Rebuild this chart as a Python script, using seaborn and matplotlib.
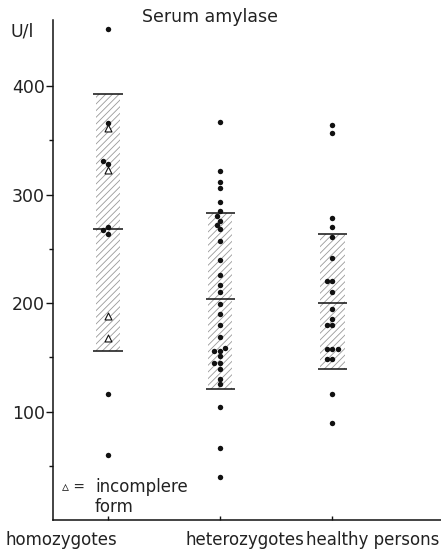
import numpy as np
import pandas as pd
import matplotlib
matplotlib.use("Agg")
import matplotlib.pyplot as plt
import matplotlib.transforms as mtransforms
import seaborn as sns

# ---- data ----
groups = ["homozygotes", "heterozygotes", "healthy persons"]

homo_complete = [453, 366, 331, 328, 270, 267, 264, 116, 60]
homo_incomplete = [361, 323, 188, 168]
hetero = [367, 322, 312, 306, 293, 285, 280, 276, 272, 268, 257, 240, 226,
          217, 210, 199, 190, 180, 169, 159, 156, 156, 151, 145, 145, 139,
          130, 125, 104, 66, 40]
healthy = [364, 357, 278, 270, 261, 242, 220, 220, 210, 195, 185, 180, 180,
           158, 158, 158, 148, 148, 116, 89]

band_lower = [156, 121, 139]
band_mean = [268, 204, 200]
band_upper = [393, 283, 264]

y_ticks = [100, 200, 300, 400]
y_minor = [50, 150, 250, 350]

# ---- figure ----
sns.set_style("white")
plt.rcParams["font.family"] = ["DejaVu Sans"]
plt.rcParams["hatch.linewidth"] = 0.6

fig = plt.figure(figsize=(4.41, 5.52), dpi=100)
ax = fig.add_axes([53 / 441, 32 / 552, 388 / 441, 500 / 552])

dots = pd.DataFrame({
    "group": ["homozygotes"] * len(homo_complete) + ["heterozygotes"] * len(hetero)
             + ["healthy persons"] * len(healthy),
    "value": homo_complete + hetero + healthy,
})
tri = pd.DataFrame({"group": ["homozygotes"] * len(homo_incomplete),
                    "value": homo_incomplete})

# hatched bands
pos = np.arange(len(groups))
heights = np.array(band_upper) - np.array(band_lower)
ax.bar(pos, heights, bottom=band_lower, width=0.22, facecolor="white",
       edgecolor="#9a9a9a", linewidth=0, hatch="/////", zorder=1)
for p, lo, me, up in zip(pos, band_lower, band_mean, band_upper):
    ax.hlines([lo, me, up], p - 0.13, p + 0.13, color="#111111", lw=1.1, zorder=2)

sns.swarmplot(data=dots, x="group", y="value", order=groups, color="#111111",
              size=3.9, ax=ax, zorder=3)
sns.stripplot(data=tri, x="group", y="value", order=groups, jitter=False,
              marker="^", color="white", edgecolor="#111111", linewidth=0.8,
              size=5, ax=ax, zorder=4)

ax.set_xlim(-0.49, 2.97)
ax.set_ylim(0, 461)
ax.set_yticks(y_ticks)
ax.set_yticks(y_minor, minor=True)
ax.set_yticklabels([str(t) for t in y_ticks], fontsize=12.5)
ax.set_xticks(pos)
ax.set_xticklabels(groups, fontsize=12)
ax.set_xlabel("")
ax.set_ylabel("")
ax.tick_params(axis="y", which="major", direction="out", length=5, width=1,
               left=True, pad=1, colors="#111111", labelcolor="#222222")
ax.tick_params(axis="y", which="minor", direction="out", length=3, width=1,
               left=True, colors="#111111")
ax.tick_params(axis="x", direction="in", length=3, width=1, bottom=True, pad=8,
               colors="#111111", labelcolor="#222222")
for s in ["top", "right"]:
    ax.spines[s].set_visible(False)
for s in ["left", "bottom"]:
    ax.spines[s].set_color("#111111")
    ax.spines[s].set_linewidth(1.1)

# shift x labels like the original lettering
offsets = [-47, 25, 40]
for lab, off in zip(ax.get_xticklabels(), offsets):
    lab.set_transform(lab.get_transform() +
                      mtransforms.ScaledTranslation(off / 100, 0, fig.dpi_scale_trans))

fig.text(210 / 441, 1 - 17 / 552, "Serum amylase", ha="center", va="center",
         fontsize=12.5, color="#222222")
fig.text(22 / 441, 1 - 31 / 552, "U/l", ha="center", va="center",
         fontsize=12.5, color="#222222")

ax.text(0.052, 0.066, "\u25b5 =", transform=ax.transAxes, fontsize=10,
        ha="center", va="center", color="#222222")
ax.text(0.108, 0.066, "incomplere", transform=ax.transAxes, fontsize=12,
        ha="left", va="center", color="#222222")
ax.text(0.108, 0.026, "form", transform=ax.transAxes, fontsize=12,
        ha="left", va="center", color="#222222")

fig.savefig("out.png", dpi=100)
